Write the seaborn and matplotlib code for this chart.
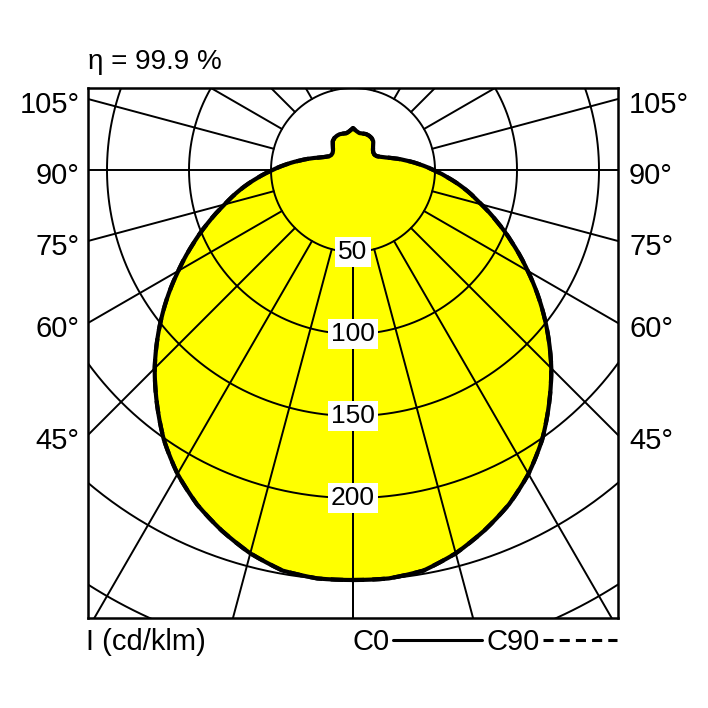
import numpy as np
import pandas as pd
import seaborn as sns
import matplotlib
matplotlib.use("Agg")
import matplotlib.pyplot as plt
from matplotlib.lines import Line2D

# ---- data (luminous intensity, cd/klm, vs. gamma angle in degrees) ----
gamma_deg = [0, 5, 10, 15, 20, 25, 30, 35, 40, 45, 50, 55, 60, 65, 70, 75, 80, 85, 90,
             95, 100, 105, 110, 115, 120, 125, 130, 135, 140, 145, 150, 155, 160, 165,
             170, 175, 180]
c0_values = [250, 250, 248, 242, 234, 225, 214, 201, 186, 171, 155, 139, 123, 108, 94, 81,
             70, 59, 49, 40.5, 33, 27, 22, 18.8, 16.8, 16, 16.2, 17.2, 19, 21.5, 22.6, 23.1,
             23.3, 23, 22.8, 23.8, 25.5]
c90_values = list(c0_values)
ring_values = [50, 100, 150, 200, 250, 300]
ring_labels = ["50", "100", "150", "200"]
angle_labels = [105, 90, 75, 60, 45]
spoke_angles = list(range(0, 181, 15))
efficiency_text = "η = 99.9 %"
unit_text = "I (cd/klm)"

sns.set_style("white")
plt.rcParams["font.family"] = ["Liberation Sans", "DejaVu Sans"]
plt.rcParams["text.color"] = "black"

W = 708
fig = plt.figure(figsize=(7.08, 7.08), dpi=100)
ax = fig.add_axes([88 / W, 90 / W, 530 / W, 530 / W])
scale = 1.64  # px per cd/klm
xlim = 265 / scale
ax.set_xlim(-xlim, xlim)
ax.set_ylim(-448 / scale, 82 / scale)
ax.set_aspect("equal")
ax.set_xticks([])
ax.set_yticks([])
for s in ax.spines.values():
    s.set_linewidth(1.8)
    s.set_color("black")
    s.set_zorder(10)


def polar_curve(g, I):
    """Render the polar curve like a polar axis would: r varies linearly with angle."""
    g = np.asarray(g, float)
    I = np.asarray(I, float)
    th = np.concatenate([-g[::-1], g[1:]])
    rr = np.concatenate([I[::-1], I[1:]])
    th_f = np.linspace(-180, 180, 1441)
    r_f = np.interp(th_f, th, rr)
    t = np.deg2rad(th_f)
    return r_f * np.sin(t), -r_f * np.cos(t)

x0, y0 = polar_curve(gamma_deg, c0_values)
x90, y90 = polar_curve(gamma_deg, c90_values)

# yellow fill
ax.fill(x0, y0, color="#ffff00", zorder=1, lw=0)

# rings
t = np.linspace(0, 2 * np.pi, 721)
for r in ring_values:
    ax.plot(r * np.cos(t), r * np.sin(t), color="black", lw=1.4, zorder=2)

# spokes
for a in spoke_angles:
    for sgn in (1, -1):
        rad = np.deg2rad(a)
        xs = sgn * np.array([50, 400]) * np.sin(rad)
        ys = -np.array([50, 400]) * np.cos(rad)
        ax.plot(xs, ys, color="black", lw=1.4, zorder=2)

# distribution curves
df0 = pd.DataFrame({"x": x0, "y": y0})
df90 = pd.DataFrame({"x": x90, "y": y90})
sns.lineplot(data=df0, x="x", y="y", sort=False, estimator=None, color="black",
             lw=3.0, ax=ax, zorder=5)
sns.lineplot(data=df90, x="x", y="y", sort=False, estimator=None, color="black",
             lw=3.0, ax=ax, zorder=5, linestyle=(0, (3, 2)))
ax.set_xlabel("")
ax.set_ylabel("")

# ring labels
for lab in ring_labels:
    r = float(lab)
    ax.text(0, -r, lab, ha="center", va="center", fontsize=19, zorder=6, color="black",
            bbox=dict(boxstyle="square,pad=0.12", fc="white", ec="none"))

# angle labels at the frame edges
for a in angle_labels:
    rad = np.deg2rad(a)
    yv = -xlim * np.cos(rad) / np.sin(rad)
    ax.annotate(f"{a}°", xy=(-xlim, yv), xytext=(-6, -4), textcoords="offset points",
                ha="right", va="center", fontsize=21, annotation_clip=False, color="black")
    ax.annotate(f"{a}°", xy=(xlim, yv), xytext=(8, -4), textcoords="offset points",
                ha="left", va="center", fontsize=21, annotation_clip=False, color="black")

# header / footer texts
fig.text(88 / W, 1 - 62 / W, efficiency_text, ha="left", va="center", fontsize=20)
fig.text(86 / W, 1 - 642 / W, unit_text, ha="left", va="center", fontsize=21)
fig.text(353 / W, 1 - 642 / W, "C0", ha="left", va="center", fontsize=21)
fig.text(487 / W, 1 - 642 / W, "C90", ha="left", va="center", fontsize=21)
fig.add_artist(Line2D([393 / W, 482 / W], [1 - 640 / W, 1 - 640 / W], color="black", lw=2.2))
fig.add_artist(Line2D([543 / W, 617 / W], [1 - 640 / W, 1 - 640 / W], color="black", lw=2.2,
                      linestyle=(0, (3.3, 2.0))))

fig.savefig("out.png", dpi=100, facecolor="white")
